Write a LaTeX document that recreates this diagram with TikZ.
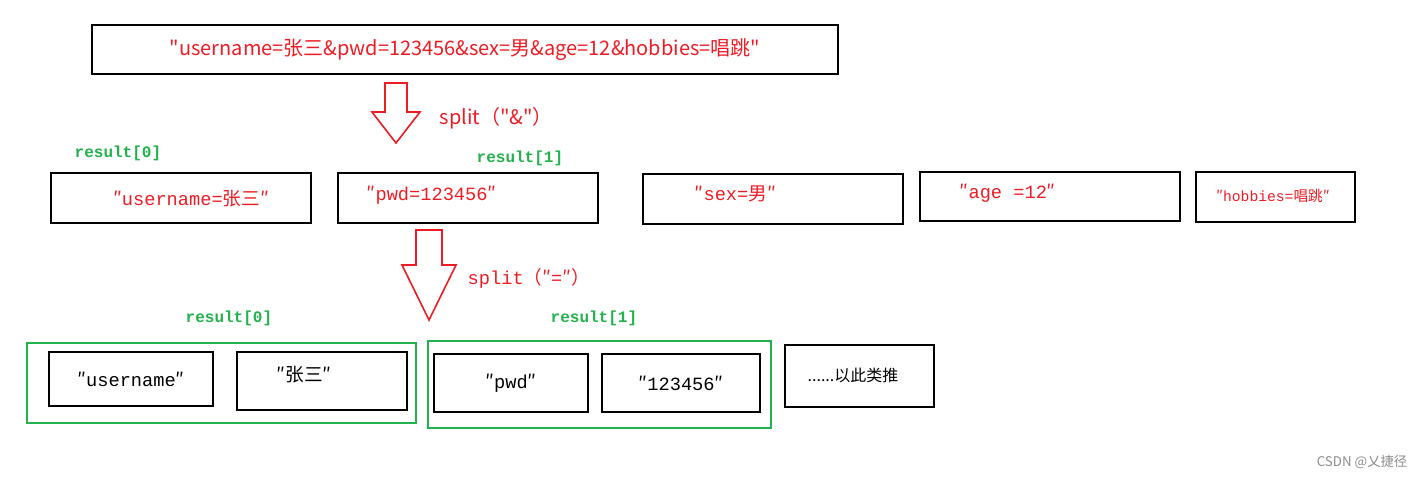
\documentclass[tikz,border=0pt]{standalone}
\usepackage{fontspec}
\setmainfont{Noto Sans CJK SC}
\newfontfamily\cjk{Noto Sans CJK SC}
\newfontfamily\mono{Liberation Mono}
\definecolor{srcred}{RGB}{237,28,36}
\definecolor{resgreen}{RGB}{34,177,76}
\tikzset{
  blkbox/.style={draw=black,line width=1.6pt,inner sep=0pt},
  grnbox/.style={draw=resgreen,line width=1.6pt,inner sep=0pt},
  redtxt/.style={text=srcred,font=\mono\fontsize{14}{16}\selectfont},
  restxt/.style={text=resgreen,font=\mono\bfseries\fontsize{12}{14}\selectfont},
  hollow/.style={draw=srcred,line width=1.2pt,fill=white}
}
\newcommand{\q}{{\cjk ″}}
\begin{document}
\begin{tikzpicture}[x=0.75pt,y=0.75pt,yscale=-1,xscale=1]
\path[use as bounding box] (0,0) rectangle (1428,479);

% source string
\node[blkbox,minimum width=560pt,minimum height=37pt] (src) at (465,49.5) {};
\node[text=srcred,font=\cjk\fontsize{15}{17}\selectfont] at (src) {"username=张三\&pwd=123456\&sex=男\&age=12\&hobbies=唱跳"};

% first arrow
\draw[hollow] (385,83) -- (407,83) -- (407,112) -- (420,112) -- (396,143) -- (372,112) -- (385,112) -- cycle;
\node[text=srcred,font=\cjk\fontsize{15}{17}\selectfont,anchor=west] (sp1) at (435,118) {split（"\&"）};

% first split result
\node[restxt,anchor=west] (r0a) at (70,153) {result[0]};
\node[restxt,anchor=west] (r1a) at (472,158) {result[1]};
\node[blkbox,minimum width=195pt,minimum height=37.5pt] (b1) at (181,198) {};
\node[blkbox,minimum width=195pt,minimum height=37.5pt] (b2) at (468,198) {};
\node[blkbox,minimum width=195pt,minimum height=37.5pt] (b3) at (773,199) {};
\node[blkbox,minimum width=195pt,minimum height=37pt] (b4) at (1050,196.5) {};
\node[blkbox,minimum width=119pt,minimum height=37.5pt] (b5) at (1275.5,197) {};
\node[redtxt] at (191,199) {\q username={\cjk 张三}\q};
\node[redtxt,anchor=west] at (362,195) {\q pwd=123456\q};
\node[redtxt,anchor=west] at (690,194) {\q sex={\cjk 男}\q};
\node[redtxt,anchor=west] at (955,193) {\q age =12\q};
\node[text=srcred,font=\mono\fontsize{11}{13}\selectfont] at (1273,196) {\q hobbies={\cjk 唱跳}\q};

% second arrow
\draw[hollow] (416,230) -- (442,230) -- (442,265) -- (456,265) -- (429,320) -- (402,265) -- (416,265) -- cycle;
\node[redtxt,anchor=west] (sp2) at (463,278) {split{\cjk （}\q=\q{\cjk ）}};

% second split result
\node[restxt,anchor=west] (r0b) at (181,318) {result[0]};
\node[restxt,anchor=west] (r1b) at (546,318) {result[1]};
\node[grnbox,minimum width=291.75pt,minimum height=60pt] (g1) at (221.5,383) {};
\node[grnbox,minimum width=257.25pt,minimum height=65.25pt] (g2) at (599.5,384.5) {};
\node[blkbox,minimum width=123pt,minimum height=40.5pt] (k1) at (131,379) {};
\node[blkbox,minimum width=127.5pt,minimum height=43.5pt] (k2) at (322,381) {};
\node[blkbox,minimum width=115.5pt,minimum height=43.5pt] (k3) at (511,383) {};
\node[blkbox,minimum width=118.5pt,minimum height=43.5pt] (k4) at (681,383) {};
\node[blkbox,minimum width=111.75pt,minimum height=46.5pt] (k5) at (859.5,376) {};
\node[font=\mono\fontsize{14}{16}\selectfont] at (k1) {\q username\q};
\node[font=\mono\fontsize{14}{16}\selectfont] at (304,375) {\q{\cjk 张三}\q};
\node[font=\mono\fontsize{14}{16}\selectfont] at (k3) {\q pwd\q};
\node[font=\mono\fontsize{14}{16}\selectfont] at (k4) {\q 123456\q};
\node[font=\cjk\fontsize{12}{14}\selectfont] at (853,375) {......以此类推};

% watermark
\node[text=black!45,font=\cjk\fontsize{10}{12}\selectfont] (wm) at (1362,462) {CSDN @乂捷径};
\end{tikzpicture}
\end{document}
